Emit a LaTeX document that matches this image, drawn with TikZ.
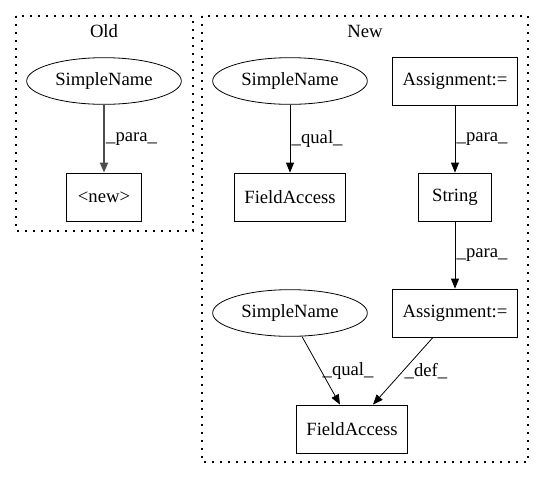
\documentclass[tikz,border=0pt]{standalone}
\usepackage{fontspec}
\setmainfont{Liberation Serif}
\usetikzlibrary{arrows.meta,shapes.geometric}
\begin{document}
\begin{tikzpicture}[x=0.75pt,y=-0.75pt,
  every node/.style={font=\fontsize{14}{16}\selectfont},
  ell/.style={draw,ellipse,line width=0.6pt,minimum width=116pt,minimum height=35pt,inner sep=0pt},
  boxn/.style={draw,rectangle,line width=0.6pt,minimum height=36pt,inner sep=0pt},
  cluster/.style={draw,dash pattern=on 1.2pt off 4.8pt,line width=0.9pt},
  edge/.style={-{Triangle[length=7.5pt,width=6pt]},line width=0.6pt},
  oldedge/.style={-{Triangle[length=7.5pt,width=6pt]},line width=1.3pt,draw=black!70},
  elab/.style={inner sep=1pt}]
\useasboundingbox (0,0) rectangle (544,480);
% clusters
\draw[cluster] (16,16) rectangle (193,231);
\draw[cluster] (202,16) rectangle (528,462);
\node (oldlbl) at (104,31) {Old};
\node (newlbl) at (365,31) {New};
% old
\node[ell] (osn) at (104,81) {SimpleName};
\node[boxn,minimum width=56pt] (onew) at (104,197) {<new>};
% new
\node[ell] (sn1) at (290,81) {SimpleName};
\node[boxn,minimum width=94pt] (as1) at (455,81) {Assignment:=};
\node[boxn,minimum width=83pt] (fa1) at (290,197) {FieldAccess};
\node[boxn,minimum width=55pt] (str) at (455,197) {String};
\node[boxn,minimum width=94pt] (as2) at (455,313) {Assignment:=};
\node[ell] (sn2) at (290,313) {SimpleName};
\node[boxn,minimum width=83pt] (fa2) at (352,429) {FieldAccess};
% edges
\draw[oldedge] (osn) -- node[midway,right,elab] {\_para\_} (onew);
\draw[edge] (sn1) -- node[midway,right,elab] {\_qual\_} (fa1);
\draw[edge] (as1) -- node[midway,right,elab] {\_para\_} (str);
\draw[edge] (str) -- node[midway,right,elab] {\_para\_} (as2);
\draw[edge] (sn2.-63) -- node[midway,right,elab] {\_qual\_} ([xshift=-9pt]fa2.north);
\draw[edge] ([xshift=-16.5pt]as2.south) -- node[midway,right,elab] {\_def\_} ([xshift=15.75pt]fa2.north);
\end{tikzpicture}
\end{document}
